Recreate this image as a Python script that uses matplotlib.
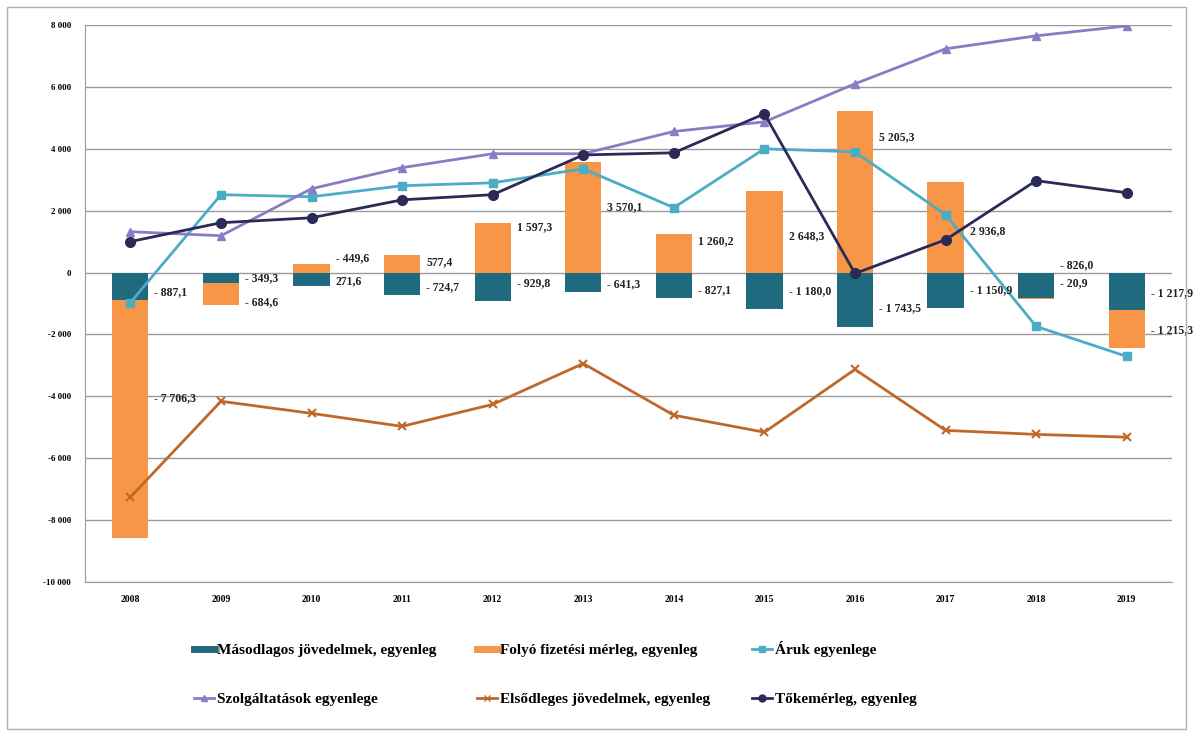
import matplotlib.pyplot as plt
import matplotlib.patches as mpatches
import numpy as np

# évek és egyenlegek (millió euró)
evek = ['2008', '2009', '2010', '2011', '2012', '2013', '2014', '2015', '2016', '2017', '2018', '2019']
masodlagos = [-887.1, -349.3, -449.6, -724.7, -929.8, -641.3, -827.1, -1180.0, -1743.5, -1150.9, -826.0, -1217.9]
folyo = [-7706.3, -684.6, 271.6, 577.4, 1597.3, 3570.1, 1260.2, 2648.3, 5205.3, 2936.8, -20.9, -1215.3]
aruk = [-970, 2516, 2450, 2806, 2900, 3355, 2097, 4000, 3900, 1870, -1740, -2710]
szolg = [1320, 1190, 2710, 3390, 3840, 3840, 4560, 4870, 6100, 7230, 7650, 7970]
elsodleges = [-7260, -4160, -4550, -4970, -4260, -2940, -4610, -5160, -3130, -5100, -5230, -5320]
toke = [1000, 1610, 1770, 2350, 2516, 3800, 3870, 5130, -30, 1060, 2970, 2580]

# címkék kézi eltolása (pixel, felfelé pozitív)
dy_masod = [-6, 0, 21, -3, 4, -2, -5, 0, -9, 0, 20, -2]
dy_folyo = [21, -8, -13, 1, 21, 10, 12, -5, 55, -4, 15, -1]

c_masod = '#1f6a7f'
c_folyo = '#f79646'
c_aruk = '#4bacc6'
c_szolg = '#8a7cc4'
c_elso = '#c0672a'
c_toke = '#2b2a57'


def fmt(v):
    s = '{:,.1f}'.format(abs(v)).replace(',', ' ').replace('.', ',')
    return '- ' + s if v < 0 else s


plt.rcParams['font.family'] = ['Liberation Serif', 'DejaVu Serif']
plt.rcParams['font.weight'] = 'bold'

fig = plt.figure(figsize=(11.93, 7.33), dpi=100)
ax = fig.add_axes([0.0713, 0.206, 0.9111, 0.7599])

x = np.arange(len(evek))
m = np.array(masodlagos)
f = np.array(folyo)
# halmozott oszlop: negatív értékek lefelé, pozitívak felfelé
f_bottom = np.where((f < 0) & (m < 0), m, 0)
w = 0.4
ax.bar(x, m, w, color=c_masod, zorder=2)
ax.bar(x, f, w, bottom=f_bottom, color=c_folyo, zorder=2)

ax.plot(x, aruk, color=c_aruk, lw=2, marker='s', ms=6, zorder=4)
ax.plot(x, szolg, color=c_szolg, lw=2, marker='^', ms=6, zorder=4)
ax.plot(x, elsodleges, color=c_elso, lw=2, marker='x', ms=6, mew=1.5, zorder=4)
ax.plot(x, toke, color=c_toke, lw=2, marker='o', ms=7, zorder=4)

for i in range(len(evek)):
    ax.annotate(fmt(m[i]), (x[i] + w / 2, m[i] / 2), xytext=(6, dy_masod[i]),
                textcoords='offset pixels', fontsize=8.5, fontweight='bold',
                va='center', ha='left', color='#222222', zorder=5)
    ax.annotate(fmt(f[i]), (x[i] + w / 2, f_bottom[i] + f[i] / 2), xytext=(6, dy_folyo[i]),
                textcoords='offset pixels', fontsize=8.5, fontweight='bold',
                va='center', ha='left', color='#222222', zorder=5)

ax.set_xlim(-0.5, len(evek) - 0.5)
ax.set_ylim(-10000, 8000)
yt = np.arange(-10000, 8001, 2000)
ax.set_yticks(yt)
ax.set_yticklabels([('-' + '{:,}'.format(abs(v)).replace(',', ' ')) if v < 0 else '{:,}'.format(v).replace(',', ' ') for v in yt],
                   fontsize=6.5, fontweight='bold')
ax.set_xticks(x)
ax.set_xticklabels(evek, fontsize=7, fontweight='bold')
ax.tick_params(length=0, pad=10)
ax.tick_params(axis='x', pad=9)
ax.grid(axis='y', color='#9a9a9a', lw=1, zorder=0)
for s in ['top', 'right']:
    ax.spines[s].set_visible(False)
for s in ['left', 'bottom']:
    ax.spines[s].set_color('#9a9a9a')

handles = [
    plt.Line2D([], [], color=c_masod, lw=5),
    plt.Line2D([], [], color=c_szolg, lw=2, marker='^', ms=5),
    plt.Line2D([], [], color=c_folyo, lw=5),
    plt.Line2D([], [], color=c_elso, lw=2, marker='x', ms=5),
    plt.Line2D([], [], color=c_aruk, lw=2, marker='s', ms=5),
    plt.Line2D([], [], color=c_toke, lw=2, marker='o', ms=5),
]
labels = ['Másodlagos jövedelmek, egyenleg', 'Szolgáltatások egyenlege',
          'Folyó fizetési mérleg, egyenleg', 'Elsődleges jövedelmek, egyenleg',
          'Áruk egyenlege', 'Tőkemérleg, egyenleg']
fig.legend(handles, labels, ncol=3, loc='upper left', bbox_to_anchor=(0.151, 0.144),
           frameon=False, prop={'size': 11, 'weight': 'bold'}, handlelength=1.3,
           handletextpad=0.2, columnspacing=2.7, labelspacing=2.3)

fig.add_artist(mpatches.Rectangle((0.006, 0.006), 0.988, 0.985, transform=fig.transFigure,
                                  fill=False, edgecolor='#b0b0b0', lw=1))

plt.savefig('out.png', dpi=100)
